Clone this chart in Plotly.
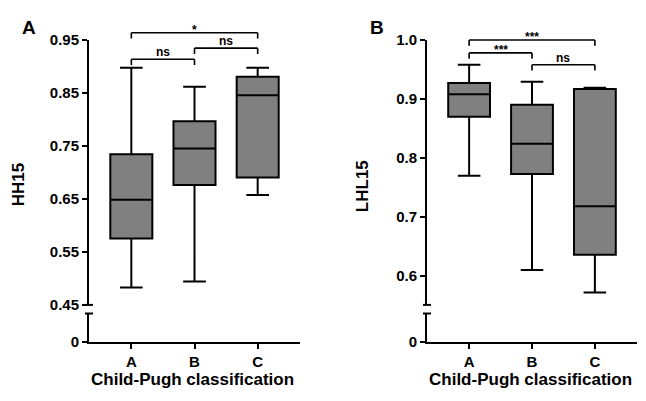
import plotly.graph_objects as go

# ---------------- data ----------------
categories = ["A", "B", "C"]

# Panel A: HH15
hh15_lowerfence = [0.483, 0.494, 0.657]
hh15_q1 = [0.575, 0.676, 0.690]
hh15_median = [0.648, 0.745, 0.845]
hh15_q3 = [0.734, 0.796, 0.880]
hh15_upperfence = [0.897, 0.861, 0.897]
hh15_ticks = [0.45, 0.55, 0.65, 0.75, 0.85, 0.95]
hh15_ticktext = ["0.45", "0.55", "0.65", "0.75", "0.85", "0.95"]
hh15_comparisons = [("A", "C", "*"), ("A", "B", "ns"), ("B", "C", "ns")]
hh15_bracket_levels = [0.963, 0.913, 0.934]

# Panel B: LHL15
lhl15_lowerfence = [0.770, 0.610, 0.572]
lhl15_q1 = [0.870, 0.773, 0.636]
lhl15_median = [0.908, 0.824, 0.718]
lhl15_q3 = [0.927, 0.890, 0.917]
lhl15_upperfence = [0.958, 0.929, 0.919]
lhl15_ticks = [0.6, 0.7, 0.8, 0.9, 1.0]
lhl15_ticktext = ["0.6", "0.7", "0.8", "0.9", "1.0"]
lhl15_comparisons = [("A", "C", "***"), ("A", "B", "***"), ("B", "C", "ns")]
lhl15_bracket_levels = [1.0, 0.978, 0.958]

# ---------------- layout helpers ----------------
W, H = 646, 401
FONT = "Liberation Sans, Arial, sans-serif"


def fx(px):
    return px / W


def fy(py):
    return 1 - py / H


panels = [
    dict(letter="A", ytitle="HH15", x0=89, x1=300, spine_top=32, spine_bot=309,
         lo=0.45, hi=0.95, ticks=hh15_ticks, ticktext=hh15_ticktext,
         stats=(hh15_lowerfence, hh15_q1, hh15_median, hh15_q3, hh15_upperfence),
         comps=hh15_comparisons, levels=hh15_bracket_levels, drop=0.011,
         letter_pos=(29, 19), ytitle_pos=(18, 184)),
    dict(letter="B", ytitle="LHL15", x0=427, x1=637, spine_top=32.3, spine_bot=309,
         lo=0.551, hi=1.0, ticks=lhl15_ticks, ticktext=lhl15_ticktext,
         stats=(lhl15_lowerfence, lhl15_q1, lhl15_median, lhl15_q3, lhl15_upperfence),
         comps=lhl15_comparisons, levels=lhl15_bracket_levels, drop=0.010,
         letter_pos=(377, 19), ytitle_pos=(362, 185)),
]

DATA_TOP = 16
LOWER_TOP, LOWER_BOT = 318, 348
XRANGE = [-0.67, 2.67]

fig = go.Figure()
layout = dict(width=W, height=H, margin=dict(l=0, r=0, t=0, b=0),
              paper_bgcolor="white", plot_bgcolor="rgba(0,0,0,0)", showlegend=False,
              font=dict(family=FONT, color="black"))
shapes = []
annotations = []

for i, p in enumerate(panels):
    xn = "" if i == 0 else str(i + 1)
    yd = str(3 * i + 1) if i > 0 else ""
    ys = str(3 * i + 2)
    yl = str(3 * i + 3)
    xname = "x" + xn
    ydname = "y" + yd

    lo, hi = p["lo"], p["hi"]
    scale = (hi - lo) / (p["spine_bot"] - p["spine_top"])
    hi_ext = hi + (p["spine_top"] - DATA_TOP) * scale

    tickfont = dict(family=FONT, size=15, color="black", weight="bold")

    layout["xaxis" + xn] = dict(
        domain=[fx(p["x0"]), fx(p["x1"])], anchor="y" + yl, range=XRANGE,
        type="category", categoryorder="array", categoryarray=categories,
        showline=True, linewidth=2, linecolor="black", ticks="outside",
        ticklen=5, tickwidth=2, tickcolor="black", tickfont=tickfont,
        showgrid=False, zeroline=False, fixedrange=True)
    layout["yaxis" + yd] = dict(
        domain=[fy(p["spine_bot"]), fy(DATA_TOP)], anchor=xname,
        range=[lo, hi_ext], visible=False, showgrid=False, zeroline=False)
    layout["yaxis" + ys] = dict(
        domain=[fy(p["spine_bot"]), fy(p["spine_top"])], anchor=xname,
        range=[lo, hi], tickmode="array", tickvals=p["ticks"],
        ticktext=p["ticktext"], showline=True, linewidth=2, linecolor="black",
        ticks="outside", ticklen=5, tickwidth=2, tickcolor="black",
        tickfont=tickfont, showgrid=False, zeroline=False)
    layout["yaxis" + yl] = dict(
        domain=[fy(LOWER_BOT), fy(LOWER_TOP)], anchor=xname,
        range=[0, 1], tickmode="array", tickvals=[0], ticktext=["0"],
        showline=True, linewidth=2, linecolor="black",
        ticks="outside", ticklen=5, tickwidth=2, tickcolor="black",
        tickfont=tickfont, showgrid=False, zeroline=False)

    # empty traces so that the spine and lower-segment subplots are drawn
    for yy in (ys, yl):
        fig.add_trace(go.Scatter(x=[], y=[], xaxis=xname, yaxis="y" + yy,
                                 mode="markers", hoverinfo="skip"))

    lf, q1, med, q3, uf = p["stats"]
    fig.add_trace(go.Box(
        x=categories, q1=q1, median=med, q3=q3, lowerfence=lf, upperfence=uf,
        xaxis=xname, yaxis=ydname, width=0.665, whiskerwidth=0.54,
        fillcolor="#808080", line=dict(color="black", width=2),
        boxpoints=False, hoverinfo="skip"))

    # significance brackets
    for (a, b, lab), lev in zip(p["comps"], p["levels"]):
        ia, ib = categories.index(a), categories.index(b)
        for (xa, ya, xb, yb) in [(ia, lev, ib, lev), (ia, lev - p["drop"], ia, lev),
                                 (ib, lev - p["drop"], ib, lev)]:
            shapes.append(dict(type="line", xref=xname, yref=ydname,
                               x0=xa, y0=ya, x1=xb, y1=yb,
                               line=dict(color="black", width=1.6)))
        is_star = "*" in lab
        annotations.append(dict(x=(ia + ib) / 2, y=lev, xref=xname, yref=ydname,
                                text="<b>%s</b>" % lab, showarrow=False,
                                yanchor="bottom", yshift=-6 if is_star else -2,
                                font=dict(family=FONT, size=12, color="black")))

    # axis break marks
    ax_x = p["x0"]
    for py in (p["spine_bot"], LOWER_TOP):
        shapes.append(dict(type="line", xref="paper", yref="paper",
                           x0=fx(ax_x - 4), x1=fx(ax_x + 4), y0=fy(py), y1=fy(py),
                           line=dict(color="black", width=2)))

    # titles
    annotations.append(dict(x=fx((p["x0"] + p["x1"]) / 2 - 2), y=fy(387), xref="paper", yref="paper",
                            text="<b>Child-Pugh classification</b>", showarrow=False,
                            xanchor="center", yanchor="middle",
                            font=dict(family=FONT, size=17, color="black")))
    annotations.append(dict(x=fx(p["ytitle_pos"][0]), y=fy(p["ytitle_pos"][1]),
                            xref="paper", yref="paper", textangle=-90,
                            text="<b>%s</b>" % p["ytitle"], showarrow=False,
                            xanchor="center", yanchor="middle",
                            font=dict(family=FONT, size=17, color="black")))
    annotations.append(dict(x=fx(p["letter_pos"][0]), y=fy(p["letter_pos"][1]),
                            xref="paper", yref="paper",
                            text="<b>%s</b>" % p["letter"], showarrow=False,
                            xanchor="center", yanchor="middle",
                            font=dict(family=FONT, size=19, color="black")))

layout["shapes"] = shapes
layout["annotations"] = annotations
fig.update_layout(**layout)
fig.write_html("out.html", config={"displayModeBar": False},
               post_script="document.body.style.margin='0';")
